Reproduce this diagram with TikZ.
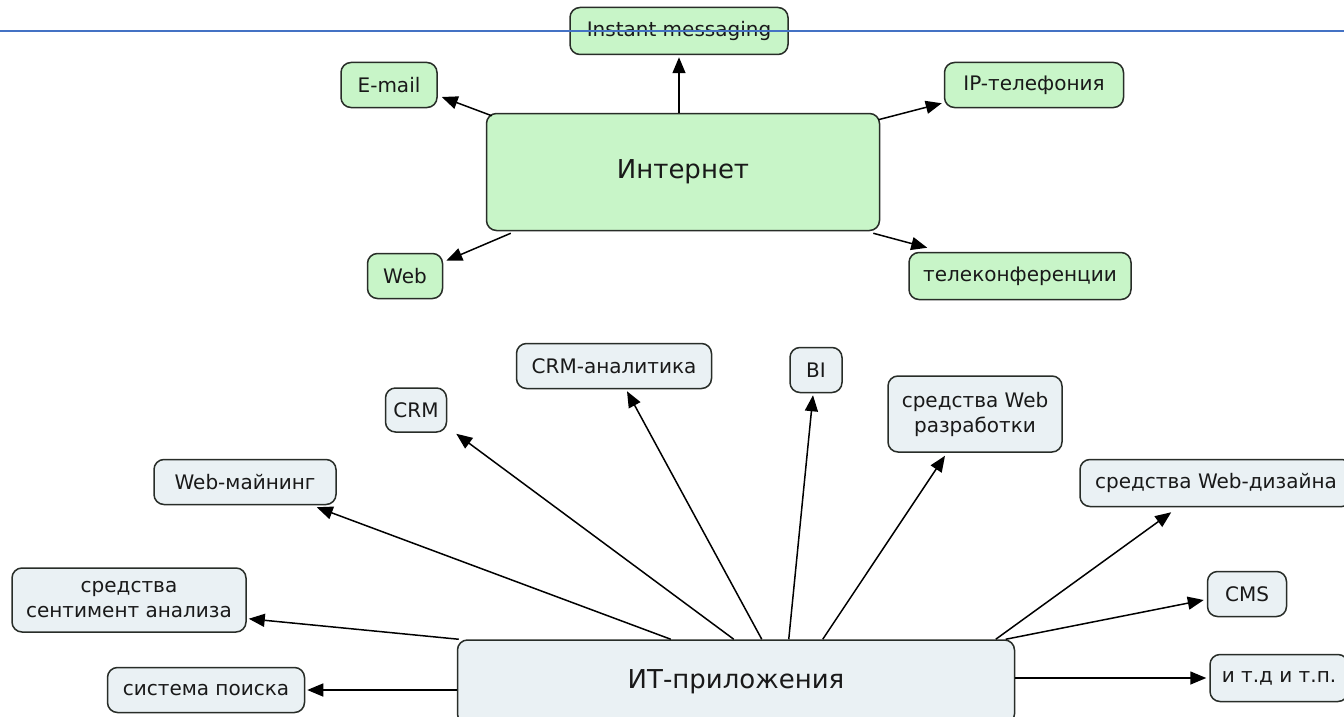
\documentclass[tikz,border=0pt]{standalone}
\usepackage{fontspec}
\setmainfont{DejaVu Sans}
\usetikzlibrary{arrows.meta}
\definecolor{gfill}{RGB}{200,245,200}
\definecolor{bfill}{RGB}{234,241,244}
\definecolor{bord}{RGB}{40,45,40}
\definecolor{bline}{RGB}{68,114,196}
\begin{document}
\begin{tikzpicture}[x=1pt,y=-1pt,
  box/.style={draw=bord, line width=1.5pt, rounded corners=10pt, inner sep=0pt, align=center,
    font=\fontsize{20}{25}\selectfont, text=black!90},
  gbox/.style={box, fill=gfill},
  bbox/.style={box, fill=bfill},
  big/.style={font=\fontsize{26}{30}\selectfont},
  arr/.style={line width=1.5pt, draw=black, -{Triangle[length=16pt,width=13pt]}}]
\useasboundingbox (0,0) rectangle (1344,717);
\clip (0,0) rectangle (1344,717);
\fill[white] (0,0) rectangle (1344,717);
% top nodes
\node[gbox, minimum width=218, minimum height=47] (im) at (679,31) {Instant messaging};
\node[gbox, minimum width=96, minimum height=45] (email) at (389,85) {E-mail};
\node[gbox, minimum width=179, minimum height=45] (ip) at (1034,85) {IP-телефония};
\node[gbox, big, minimum width=393, minimum height=117] (inet) at (683,172) {Интернет};
\node[gbox, minimum width=75, minimum height=45] (web) at (405,276) {Web};
\node[gbox, minimum width=222, minimum height=47] (tele) at (1020,276) {телеконференции};
% bottom nodes
\node[bbox, minimum width=195, minimum height=45] (crma) at (614,366) {CRM-аналитика};
\node[bbox, minimum width=52, minimum height=45] (bi) at (816,370) {BI};
\node[bbox, minimum width=61, minimum height=44] (crm) at (416,410) {CRM};
\node[bbox, minimum width=174, minimum height=76] (wdev) at (975,414) {средства Web\\разработки};
\node[bbox, minimum width=182, minimum height=45] (wmin) at (245,482) {Web-майнинг};
\node[bbox, minimum width=272, minimum height=47] (wdes) at (1216,483) {средства Web-дизайна};
\node[bbox, minimum width=79, minimum height=45] (cms) at (1247,594) {CMS};
\node[bbox, minimum width=234, minimum height=64] (sent) at (129,600) {средства\\сентимент анализа};
\node[bbox, minimum width=197, minimum height=45] (search) at (206,690) {система поиска};
\node[bbox, big, minimum width=557, minimum height=84] (it) at (736,682) {ИТ-приложения};
\node[bbox, minimum width=138, minimum height=47] (etc) at (1279,678) {и т.д и т.п.};
% top arrows
\draw[arr] ([xshift=-4pt]inet.north) -- ([yshift=-2pt]im.south);
\draw[arr] ([xshift=6pt,yshift=-3pt]inet.north west) -- ([xshift=4pt,yshift=-12pt]email.east);
\draw[arr] ([xshift=-2pt,yshift=-7pt]inet.north east) -- ([xshift=-2pt,yshift=5pt]ip.south west);
\draw[arr] ([xshift=25pt,yshift=-2pt]inet.south west) -- ([xshift=3pt,yshift=-8pt]web.north east);
\draw[arr] ([xshift=-7pt,yshift=-2pt]inet.south east) -- ([xshift=19pt,yshift=4pt]tele.north west);
% bottom arrows
\draw[arr, shorten >=2pt] (it.west |- search.east) -- (search.east);
\draw[arr] ([xshift=2pt]it.north west) -- ([xshift=2pt,yshift=14pt]sent.south east);
\draw[arr] ([xshift=214pt]it.north west) -- ([xshift=-20pt,yshift=-2pt]wmin.south east);
\draw[arr] ([xshift=277pt]it.north west) -- ([xshift=9pt,yshift=-1pt]crm.south east);
\draw[arr] ([xshift=305pt]it.north west) -- ([xshift=13pt,yshift=-2pt]crma.south);
\draw[arr] ([xshift=332pt]it.north west) -- ([xshift=-3pt,yshift=-2pt]bi.south);
\draw[arr] ([xshift=366pt]it.north west) -- ([xshift=-30pt,yshift=-3pt]wdev.south);
\draw[arr] ([xshift=539pt]it.north west) -- ([xshift=92pt,yshift=-5pt]wdes.south west);
\draw[arr] ([xshift=549pt]it.north west) -- ([xshift=-3pt,yshift=-6pt]cms.west);
\draw[arr, shorten >=3pt] (it.east |- etc.west) -- (etc.west);
% blue rule
\coordinate (bl) at (0,31);
\coordinate (br) at (1344,31);
\draw[bline, line width=2pt] (bl) -- (br);
\end{tikzpicture}
\end{document}
